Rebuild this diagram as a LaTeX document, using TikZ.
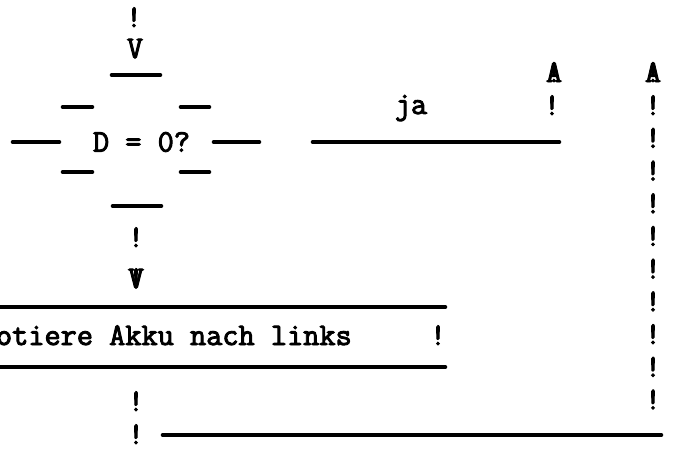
\documentclass[tikz,border=0pt]{standalone}
\usepackage{fontspec}
\newfontfamily\typew{Latin Modern Mono}[FakeBold=3]
\usetikzlibrary{positioning}

\begin{document}
\begin{tikzpicture}[
  x=1pt,y=-1pt,
  tw/.style={font=\typew\fontsize{31.4}{32}\selectfont,
             inner sep=0pt,outer sep=0pt,anchor=base},
  rule/.style={line width=4.6pt,line cap=round},
]
\useasboundingbox (0,0) rectangle (673,450);

%% ============================================================
%% Typewriter chart: column x=136 (main flow), x=653 (loop back)
%% ============================================================

% --- entry from above ---
\node[tw] (in) at (134,27) {!};
\node[tw] (inhead) at (135,58) {V};

% --- decision D = 0? ---
\node[tw,anchor=west] (test) at (93,142) {D = 0?};
\draw[rule] (112,75) -- (160,75);
\draw[rule] (63,107) -- (92,107);   \draw[rule] (181,107) -- (209,107);
\draw[rule] (13,142) -- (59,142);   \draw[rule] (214,142) -- (259,142);
\draw[rule] (63,172) -- (92,172);   \draw[rule] (181,172) -- (209,172);
\draw[rule] (113,206) -- (161,206);

% --- yes branch ---
\node[tw] (ja) at (411,114) {ja};
\coordinate (jaL) at (313,142);
\coordinate (jaR) at (559,142);
\draw[rule] (jaL) -- (jaR);
\node[tw] (up1) at (554,82) {A};
\node[tw] at (up1.base) {!};
\node[tw] (up1bar) at (552,115) {!};

% --- no branch, down to the box ---
\node[tw] (no) at (136,247) {!};
\node[tw] (nohead) at (136,288) {V};
\node[tw] at (nohead.base) {!};

% --- process box ---
\coordinate (boxTL) at (-5,307);
\coordinate (boxTR) at (445,307);
\coordinate (boxBL) at (-5,367);
\coordinate (boxBR) at (445,367);
\draw[rule] (boxTL) -- (boxTR);
\draw[rule] (boxBL) -- (boxBR);
\node[tw,anchor=base west] (rot) at (-4,345) {otiere Akku nach links};
\node[tw] (boxr) at (438,345) {!};

% --- out of the box and back up ---
\node[tw] (out1) at (136,411) {!};
\node[tw] (out2) at (136,444) {!};
\coordinate (backL) at (163,435);
\coordinate (backR) at (661,435);
\draw[rule] (backL) -- (backR);
\foreach \k in {0,...,9}
  \node[tw] (back\k) at (653,115+32.7*\k) {!};
\node[tw] (up2) at (653,82) {A};
\node[tw] at (up2.base) {!};

\end{tikzpicture}
\end{document}
